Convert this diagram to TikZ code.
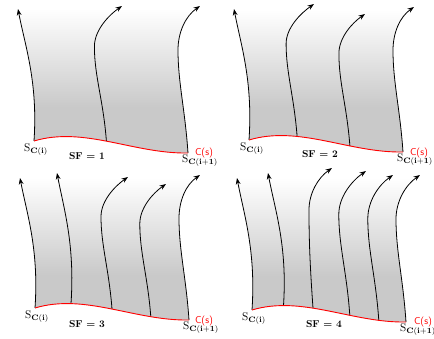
\documentclass[tikz,border=0pt]{standalone}
\usetikzlibrary{arrows.meta}
\pgfdeclareverticalshading{fadegray}{100bp}{color(0bp)=(black!21); color(41bp)=(black!21); color(74bp)=(white); color(100bp)=(white)}
\tikzset{
  stream/.style={line width=0.8pt, -{Stealth[length=6.5pt,width=4.8pt]}},
  redbase/.style={red, line width=0.9pt},
  lbl/.style={inner sep=0pt, scale=1.12},
  sflbl/.style={inner sep=0pt, font=\bfseries},
  cslbl/.style={inner sep=0pt, text=red, font=\sffamily},
}
% right-bending streamline segment: base (#1,#2), tip (#3,#4), lean #5
\newcommand{\rseg}[5]{ .. controls ({(#1)-3},{(#2)-0.3*((#2)-(#4))}) and ({(#1)-(#5)},{(#2)-0.48*((#2)-(#4))}) .. ({(#1)-(#5)},{(#2)-0.7*((#2)-(#4))}) .. controls ({(#1)-(#5)},{(#2)-0.82*((#2)-(#4))}) and ({(#3)-0.1*((#2)-(#4))},{(#4)+0.07*((#2)-(#4))}) .. (#3,#4)}
% left-bending streamline segment: base (#1,#2), tip (#3,#4)
\newcommand{\lseg}[4]{ .. controls ({(#1)+4},{(#2)-0.45*((#2)-(#4))}) and ({(#3)+7},{(#4)+0.28*((#2)-(#4))}) .. (#3,#4)}
% same, reversed (from tip to base)
\newcommand{\lsegrev}[4]{ .. controls ({(#3)+7},{(#4)+0.28*((#2)-(#4))}) and ({(#1)+4},{(#2)-0.45*((#2)-(#4))}) .. (#1,#2)}
\newcommand{\basepath}{(0,0) .. controls (50,-15) and (100,13) .. (154,12)}
% panel frame: left tip (#1,#2), right tip (#3,#4)
\newcommand{\panelframe}[4]{%
  \shade[shading=fadegray] \basepath \rseg{154}{12}{#3}{#4}{10} -- (#1,#2) \lsegrev{0}{0}{#1}{#2} -- cycle;
  \draw[stream] (0,0) \lseg{0}{0}{#1}{#2};
  \draw[stream] (154,12) \rseg{154}{12}{#3}{#4}{10};
}
\begin{document}
\begin{tikzpicture}[x=1pt,y=-1pt]
\useasboundingbox (0,0) rectangle (434,339);
% ---------- panel 1
\begin{scope}[shift={(34,141)}]
  \panelframe{-16}{-132}{166}{-135}
  \draw[stream] (72.4,0.2) \rseg{72.4}{0.2}{88}{-135}{12};
  \draw[redbase] \basepath;
  \node[lbl] (si1) at (2,9) {$\mathrm{S}_{\mathbf{C(i)}}$};
  \node[sflbl] (sf1) at (53,15) {SF = 1};
  \node[cslbl] (cs1) at (170,12) {C(s)};
  \node[lbl] (sj1) at (166,20) {$\mathrm{S}_{\mathbf{C(i+1)}}$};
\end{scope}
% ---------- panel 2
\begin{scope}[shift={(249,140)}]
  \panelframe{-15}{-131}{165}{-133}
  \draw[stream] (48.1,-3.6) \rseg{48.1}{-3.6}{65}{-136}{11};
  \draw[stream] (100.9,6.0) \rseg{100.9}{6.0}{116}{-126}{11};
  \draw[redbase] \basepath;
  \node[lbl] (si2) at (3,9) {$\mathrm{S}_{\mathbf{C(i)}}$};
  \node[sflbl] (sf2) at (71,14) {SF = 2};
  \node[cslbl] (cs2) at (170,13) {C(s)};
  \node[lbl] (sj2) at (166,20) {$\mathrm{S}_{\mathbf{C(i+1)}}$};
\end{scope}
% ---------- panel 3
\begin{scope}[shift={(35,308)}]
  \panelframe{-15}{-130}{165}{-133}
  \draw[stream] (36,-4.4) \lseg{36}{-4.4}{22}{-135};
  \draw[stream] (77,1) \rseg{77}{1}{93}{-131}{11};
  \draw[stream] (115.8,8.7) \rseg{115.8}{8.7}{131}{-124}{11};
  \draw[redbase] \basepath;
  \node[lbl] (si3) at (2,9) {$\mathrm{S}_{\mathbf{C(i)}}$};
  \node[sflbl] (sf3) at (52,16) {SF = 3};
  \node[cslbl] (cs3) at (169,13) {C(s)};
  \node[lbl] (sj3) at (166,20) {$\mathrm{S}_{\mathbf{C(i+1)}}$};
\end{scope}
% ---------- panel 4
\begin{scope}[shift={(252,310)}]
  \panelframe{-15}{-132}{168}{-135}
  \draw[stream] (31.5,-4.4) \lseg{31.5}{-4.4}{16}{-137};
  \draw[stream] (61,-1.9) \rseg{61}{-1.9}{80}{-142}{4};
  \draw[stream] (97.8,5.3) \rseg{97.8}{5.3}{114}{-139}{11};
  \draw[stream] (126.8,10.4) \rseg{126.8}{10.4}{141}{-135}{11};
  \draw[redbase] \basepath;
  \node[lbl] (si4) at (2,9) {$\mathrm{S}_{\mathbf{C(i)}}$};
  \node[sflbl] (sf4) at (72,14) {SF = 4};
  \node[cslbl] (cs4) at (171,12) {C(s)};
  \node[lbl] (sj4) at (166,20) {$\mathrm{S}_{\mathbf{C(i+1)}}$};
\end{scope}
\end{tikzpicture}
\end{document}
